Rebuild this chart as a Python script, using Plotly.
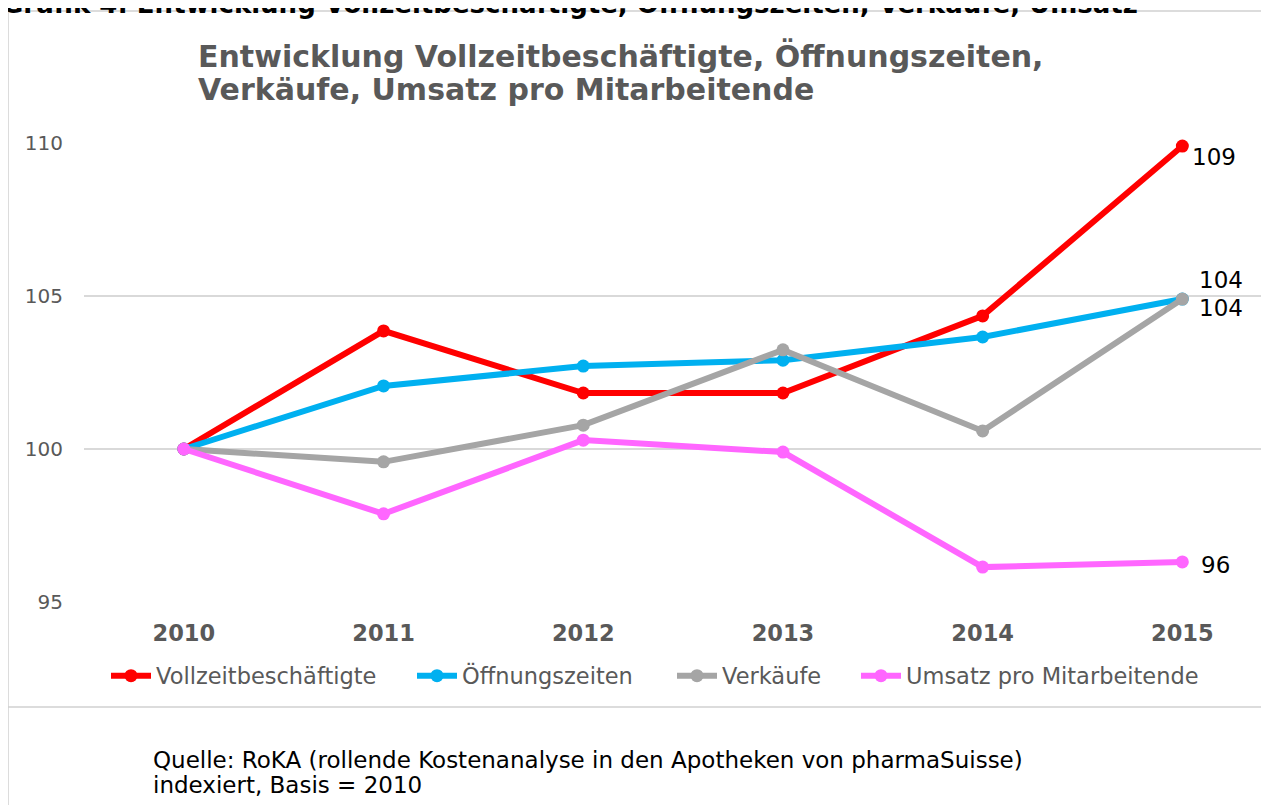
import plotly.graph_objects as go

years = ["2010", "2011", "2012", "2013", "2014", "2015"]
vollzeit = [100.0, 103.86, 101.83, 101.83, 104.35, 109.9]
oeffnung = [100.0, 102.06, 102.71, 102.9, 103.66, 104.9]
verkaeufe = [100.0, 99.58, 100.78, 103.24, 100.59, 104.9]
umsatz = [100.0, 97.88, 100.29, 99.9, 96.14, 96.31]

series_names = ["Vollzeitbeschäftigte", "Öffnungszeiten", "Verkäufe", "Umsatz pro Mitarbeitende"]
series_values = [vollzeit, oeffnung, verkaeufe, umsatz]
series_colors = ["#FF0000", "#00B0F0", "#A5A5A5", "#FF66FF"]
end_labels = ["109", "104", "104", "96"]
label_shifts = [(8, -11), (15, 19), (15, -9), (17, -3)]

y_ticks = [95, 100, 105, 110]

# browser body margin offset (page places the figure at 8,8)
OFF = 8
WIN_W, WIN_H = 1269, 805
W, H = WIN_W - OFF, WIN_H - OFF
PLOT_LEFT, PLOT_TOP, PLOT_BOTTOM, PLOT_RIGHT = 84, 143, 602, 1269  # window pixels
L = PLOT_LEFT - OFF
T = PLOT_TOP - OFF
B = H - (PLOT_BOTTOM - OFF)
R = W - (PLOT_RIGHT - OFF)
PW = W - L - R
PH = H - T - B

def px_x(p):
    return (p - OFF - L) / PW

def px_y(p):
    return ((PLOT_BOTTOM - OFF) - (p - OFF)) / PH

legend_x = [112, 418, 678, 862]
legend_ids = ["legend", "legend2", "legend3", "legend4"]

fig = go.Figure()
for name, vals, col, lid in zip(series_names, series_values, series_colors, legend_ids):
    fig.add_trace(go.Scatter(
        x=list(range(len(years))), y=vals, name=name, mode="lines+markers",
        line=dict(color=col, width=6),
        marker=dict(color=col, size=13),
        legend=lid, cliponaxis=False,
    ))

annotations = []
for vals, lab, (dx, dy) in zip(series_values, end_labels, label_shifts):
    annotations.append(dict(
        x=len(years) - 1, y=vals[-1], xref="x", yref="y", text=lab,
        showarrow=False, xanchor="left", yanchor="middle",
        xshift=dx, yshift=dy,
        font=dict(family="DejaVu Sans", size=23, color="#000000"),
    ))

annotations.append(dict(
    x=px_x(0), y=px_y(21), xref="paper", yref="paper",
    text="<b>Grafik 4: Entwicklung Vollzeitbeschäftigte, Öffnungszeiten, Verkäufe, Umsatz</b>",
    showarrow=False, xanchor="left", yanchor="bottom",
    font=dict(family="DejaVu Sans", size=26, color="#000000"),
))
annotations.append(dict(
    x=px_x(196), y=px_y(56), xref="paper", yref="paper",
    text="<b>Entwicklung Vollzeitbeschäftigte, Öffnungszeiten,</b>",
    showarrow=False, xanchor="left", yanchor="middle", align="left",
    font=dict(family="DejaVu Sans", size=30, color="#595959"),
))
annotations.append(dict(
    x=px_x(196), y=px_y(90), xref="paper", yref="paper",
    text="<b>Verkäufe, Umsatz pro Mitarbeitende</b>",
    showarrow=False, xanchor="left", yanchor="middle", align="left",
    font=dict(family="DejaVu Sans", size=30, color="#595959"),
))
annotations.append(dict(
    x=px_x(151), y=px_y(760), xref="paper", yref="paper",
    text="Quelle: RoKA (rollende Kostenanalyse in den Apotheken von pharmaSuisse)",
    showarrow=False, xanchor="left", yanchor="middle",
    font=dict(family="DejaVu Sans", size=23, color="#000000"),
))
annotations.append(dict(
    x=px_x(151), y=px_y(785), xref="paper", yref="paper",
    text="indexiert, Basis = 2010",
    showarrow=False, xanchor="left", yanchor="middle",
    font=dict(family="DejaVu Sans", size=23, color="#000000"),
))

line_col = "#D0D0D0"
shapes = [
    dict(type="line", xref="paper", yref="paper", x0=px_x(8), x1=px_x(WIN_W), y0=px_y(11), y1=px_y(11),
         line=dict(color=line_col, width=1.5)),
    dict(type="line", xref="paper", yref="paper", x0=px_x(8), x1=px_x(8), y0=px_y(11), y1=px_y(WIN_H),
         line=dict(color=line_col, width=1.5)),
    dict(type="line", xref="paper", yref="paper", x0=px_x(8), x1=px_x(WIN_W), y0=px_y(707), y1=px_y(707),
         line=dict(color=line_col, width=1.5)),
]

legend_layout = {}
for lid, lx in zip(legend_ids, legend_x):
    legend_layout[lid] = dict(
        orientation="h", x=px_x(lx - 6), y=px_y(676), xanchor="left", yanchor="middle",
        font=dict(family="DejaVu Sans", size=22.5, color="#595959"),
        itemwidth=40, bgcolor="rgba(0,0,0,0)",
    )

fig.update_layout(
    width=W, height=H,
    margin=dict(l=L, r=R, t=T, b=B),
    paper_bgcolor="white", plot_bgcolor="white",
    font=dict(family="DejaVu Sans", color="#595959"),
    showlegend=True,
    xaxis=dict(
        tickmode="array", tickvals=list(range(len(years))), ticktext=years,
        range=[-0.5, -0.5 + PW / 199.7], showgrid=False, zeroline=False, showline=False,
        ticks="", tickfont=dict(family="DejaVu Sans", size=22.5, color="#595959", weight="bold"),
        ticklabelstandoff=15,
    ),
    yaxis=dict(
        range=[95, 110], tickmode="array", tickvals=y_ticks,
        showgrid=True, gridcolor="#D9D9D9", gridwidth=2, zeroline=False, showline=False,
        ticks="", tickfont=dict(family="DejaVu Sans", size=20, color="#595959"),
        ticklabelstandoff=20,
    ),
    annotations=annotations,
    shapes=shapes,
    **legend_layout,
)

fig.write_html("out.html")
